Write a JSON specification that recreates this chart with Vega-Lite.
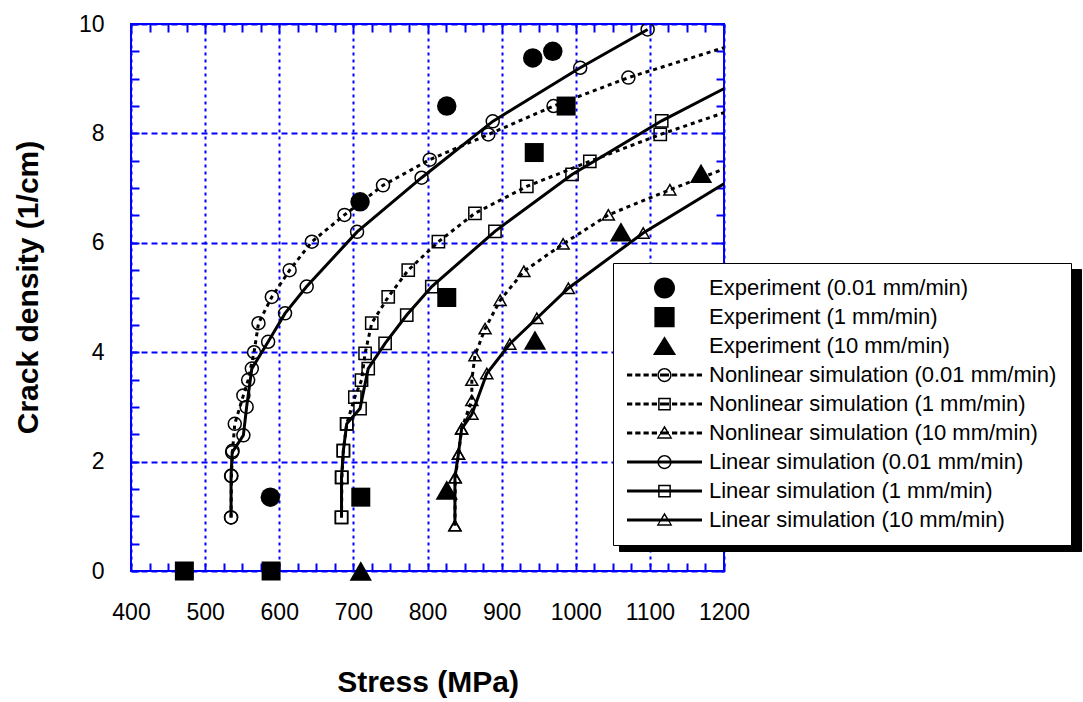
{
"$schema": "https://vega.github.io/schema/vega-lite/v6.json",
"width": 593, "height": 547,
"autosize": {"type": "none"},
"padding": {"left": 131, "top": 24, "right": 359, "bottom": 131},
"background": "white",
"config": {
  "view": {"stroke": "#0000ff", "strokeWidth": 2},
  "font": "Liberation Sans",
  "legend": {"orient": "none", "labelFont": "Liberation Sans", "labelFontSize": 22, "labelColor": "black", "labelOffset": 7, "labelLimit": 0, "symbolSize": 5625, "symbolStrokeWidth": 0, "clipHeight": 22, "rowPadding": 7, "padding": 14}
},
"data": {"values": [
{"s":"Experiment (0.01 mm/min)","t":"e","r":"0.01","i":1,"x":588,"y":1.35},
{"s":"Experiment (0.01 mm/min)","t":"e","r":"0.01","i":2,"x":709,"y":6.75},
{"s":"Experiment (0.01 mm/min)","t":"e","r":"0.01","i":3,"x":826,"y":8.5},
{"s":"Experiment (0.01 mm/min)","t":"e","r":"0.01","i":4,"x":942,"y":9.38},
{"s":"Experiment (0.01 mm/min)","t":"e","r":"0.01","i":5,"x":969,"y":9.5},
{"s":"Experiment (1 mm/min)","t":"e","r":"1","i":1,"x":472,"y":0},
{"s":"Experiment (1 mm/min)","t":"e","r":"1","i":2,"x":589,"y":0},
{"s":"Experiment (1 mm/min)","t":"e","r":"1","i":3,"x":710,"y":1.35},
{"s":"Experiment (1 mm/min)","t":"e","r":"1","i":4,"x":826,"y":5.0},
{"s":"Experiment (1 mm/min)","t":"e","r":"1","i":5,"x":944,"y":7.65},
{"s":"Experiment (1 mm/min)","t":"e","r":"1","i":6,"x":987,"y":8.5},
{"s":"Experiment (10 mm/min)","t":"e","r":"10","i":1,"x":710,"y":0},
{"s":"Experiment (10 mm/min)","t":"e","r":"10","i":2,"x":826,"y":1.48},
{"s":"Experiment (10 mm/min)","t":"e","r":"10","i":3,"x":945,"y":4.22},
{"s":"Experiment (10 mm/min)","t":"e","r":"10","i":4,"x":1061,"y":6.2},
{"s":"Experiment (10 mm/min)","t":"e","r":"10","i":5,"x":1169,"y":7.27},
{"s":"Nonlinear simulation (0.01 mm/min)","t":"n","r":"0.01","i":1,"x":535,"y":0.98},
{"s":"Nonlinear simulation (0.01 mm/min)","t":"n","r":"0.01","i":2,"x":535.5,"y":1.74},
{"s":"Nonlinear simulation (0.01 mm/min)","t":"n","r":"0.01","i":3,"x":537,"y":2.2},
{"s":"Nonlinear simulation (0.01 mm/min)","t":"n","r":"0.01","i":4,"x":540,"y":2.69},
{"s":"Nonlinear simulation (0.01 mm/min)","t":"n","r":"0.01","i":5,"x":551.6,"y":3.21},
{"s":"Nonlinear simulation (0.01 mm/min)","t":"n","r":"0.01","i":6,"x":558,"y":3.49},
{"s":"Nonlinear simulation (0.01 mm/min)","t":"n","r":"0.01","i":7,"x":566,"y":4.0},
{"s":"Nonlinear simulation (0.01 mm/min)","t":"n","r":"0.01","i":8,"x":572,"y":4.53},
{"s":"Nonlinear simulation (0.01 mm/min)","t":"n","r":"0.01","i":9,"x":590,"y":5.01},
{"s":"Nonlinear simulation (0.01 mm/min)","t":"n","r":"0.01","i":10,"x":614,"y":5.5},
{"s":"Nonlinear simulation (0.01 mm/min)","t":"n","r":"0.01","i":11,"x":644,"y":6.02},
{"s":"Nonlinear simulation (0.01 mm/min)","t":"n","r":"0.01","i":12,"x":688,"y":6.51},
{"s":"Nonlinear simulation (0.01 mm/min)","t":"n","r":"0.01","i":13,"x":740,"y":7.05},
{"s":"Nonlinear simulation (0.01 mm/min)","t":"n","r":"0.01","i":14,"x":803,"y":7.52},
{"s":"Nonlinear simulation (0.01 mm/min)","t":"n","r":"0.01","i":15,"x":882,"y":7.98},
{"s":"Nonlinear simulation (0.01 mm/min)","t":"n","r":"0.01","i":16,"x":970,"y":8.5},
{"s":"Nonlinear simulation (0.01 mm/min)","t":"n","r":"0.01","i":17,"x":1071,"y":9.02},
{"s":"Nonlinear simulation (0.01 mm/min)","t":"n","r":"0.01","i":18,"x":1250,"y":9.78},
{"s":"Linear simulation  (0.01 mm/min)","t":"l","r":"0.01","i":1,"x":535,"y":0.98},
{"s":"Linear simulation  (0.01 mm/min)","t":"l","r":"0.01","i":2,"x":535,"y":1.74},
{"s":"Linear simulation  (0.01 mm/min)","t":"l","r":"0.01","i":3,"x":536.5,"y":2.17},
{"s":"Linear simulation  (0.01 mm/min)","t":"l","r":"0.01","i":4,"x":551.6,"y":2.48},
{"s":"Linear simulation  (0.01 mm/min)","t":"l","r":"0.01","i":5,"x":556,"y":3.0},
{"s":"Linear simulation  (0.01 mm/min)","t":"l","r":"0.01","i":6,"x":563,"y":3.7},
{"s":"Linear simulation  (0.01 mm/min)","t":"l","r":"0.01","i":7,"x":585,"y":4.19},
{"s":"Linear simulation  (0.01 mm/min)","t":"l","r":"0.01","i":8,"x":607.8,"y":4.71},
{"s":"Linear simulation  (0.01 mm/min)","t":"l","r":"0.01","i":9,"x":637,"y":5.2},
{"s":"Linear simulation  (0.01 mm/min)","t":"l","r":"0.01","i":10,"x":705,"y":6.2},
{"s":"Linear simulation  (0.01 mm/min)","t":"l","r":"0.01","i":11,"x":792,"y":7.19},
{"s":"Linear simulation  (0.01 mm/min)","t":"l","r":"0.01","i":12,"x":888,"y":8.22},
{"s":"Linear simulation  (0.01 mm/min)","t":"l","r":"0.01","i":13,"x":1006,"y":9.2},
{"s":"Linear simulation  (0.01 mm/min)","t":"l","r":"0.01","i":14,"x":1097,"y":9.9},
{"s":"Nonlinear simulation (1 mm/min)","t":"n","r":"1","i":1,"x":684,"y":0.98},
{"s":"Nonlinear simulation (1 mm/min)","t":"n","r":"1","i":2,"x":684.5,"y":1.71},
{"s":"Nonlinear simulation (1 mm/min)","t":"n","r":"1","i":3,"x":686.5,"y":2.2},
{"s":"Nonlinear simulation (1 mm/min)","t":"n","r":"1","i":4,"x":691,"y":2.69},
{"s":"Nonlinear simulation (1 mm/min)","t":"n","r":"1","i":5,"x":702,"y":3.18},
{"s":"Nonlinear simulation (1 mm/min)","t":"n","r":"1","i":6,"x":711,"y":3.49},
{"s":"Nonlinear simulation (1 mm/min)","t":"n","r":"1","i":7,"x":715.8,"y":3.98},
{"s":"Nonlinear simulation (1 mm/min)","t":"n","r":"1","i":8,"x":724.8,"y":4.53},
{"s":"Nonlinear simulation (1 mm/min)","t":"n","r":"1","i":9,"x":747,"y":5.01},
{"s":"Nonlinear simulation (1 mm/min)","t":"n","r":"1","i":10,"x":774,"y":5.5},
{"s":"Nonlinear simulation (1 mm/min)","t":"n","r":"1","i":11,"x":814.7,"y":6.02},
{"s":"Nonlinear simulation (1 mm/min)","t":"n","r":"1","i":12,"x":864,"y":6.54},
{"s":"Nonlinear simulation (1 mm/min)","t":"n","r":"1","i":13,"x":934,"y":7.03},
{"s":"Nonlinear simulation (1 mm/min)","t":"n","r":"1","i":14,"x":1019,"y":7.49},
{"s":"Nonlinear simulation (1 mm/min)","t":"n","r":"1","i":15,"x":1114,"y":7.98},
{"s":"Nonlinear simulation (1 mm/min)","t":"n","r":"1","i":16,"x":1250,"y":8.61},
{"s":"Linear simulation (1 mm/min)","t":"l","r":"1","i":1,"x":684,"y":0.98},
{"s":"Linear simulation (1 mm/min)","t":"l","r":"1","i":2,"x":684,"y":1.71},
{"s":"Linear simulation (1 mm/min)","t":"l","r":"1","i":3,"x":686.5,"y":2.2},
{"s":"Linear simulation (1 mm/min)","t":"l","r":"1","i":4,"x":691,"y":2.69},
{"s":"Linear simulation (1 mm/min)","t":"l","r":"1","i":5,"x":709,"y":2.97},
{"s":"Linear simulation (1 mm/min)","t":"l","r":"1","i":6,"x":720,"y":3.7},
{"s":"Linear simulation (1 mm/min)","t":"l","r":"1","i":7,"x":742.8,"y":4.16},
{"s":"Linear simulation (1 mm/min)","t":"l","r":"1","i":8,"x":772,"y":4.68},
{"s":"Linear simulation (1 mm/min)","t":"l","r":"1","i":9,"x":805.8,"y":5.2},
{"s":"Linear simulation (1 mm/min)","t":"l","r":"1","i":10,"x":891,"y":6.21},
{"s":"Linear simulation (1 mm/min)","t":"l","r":"1","i":11,"x":995,"y":7.25},
{"s":"Linear simulation (1 mm/min)","t":"l","r":"1","i":12,"x":1116,"y":8.23},
{"s":"Linear simulation (1 mm/min)","t":"l","r":"1","i":13,"x":1250,"y":9.17},
{"s":"Nonlinear simulation (10 mm/min)","t":"n","r":"10","i":1,"x":837,"y":0.83},
{"s":"Nonlinear simulation (10 mm/min)","t":"n","r":"10","i":2,"x":837.5,"y":1.71},
{"s":"Nonlinear simulation (10 mm/min)","t":"n","r":"10","i":3,"x":842,"y":2.14},
{"s":"Nonlinear simulation (10 mm/min)","t":"n","r":"10","i":4,"x":846,"y":2.6},
{"s":"Nonlinear simulation (10 mm/min)","t":"n","r":"10","i":5,"x":859.8,"y":3.12},
{"s":"Nonlinear simulation (10 mm/min)","t":"n","r":"10","i":6,"x":859.8,"y":3.49},
{"s":"Nonlinear simulation (10 mm/min)","t":"n","r":"10","i":7,"x":864,"y":3.94},
{"s":"Nonlinear simulation (10 mm/min)","t":"n","r":"10","i":8,"x":877.7,"y":4.43},
{"s":"Nonlinear simulation (10 mm/min)","t":"n","r":"10","i":9,"x":898,"y":4.95},
{"s":"Nonlinear simulation (10 mm/min)","t":"n","r":"10","i":10,"x":930,"y":5.48},
{"s":"Nonlinear simulation (10 mm/min)","t":"n","r":"10","i":11,"x":983,"y":5.98},
{"s":"Nonlinear simulation (10 mm/min)","t":"n","r":"10","i":12,"x":1044,"y":6.51},
{"s":"Nonlinear simulation (10 mm/min)","t":"n","r":"10","i":13,"x":1127,"y":6.97},
{"s":"Nonlinear simulation (10 mm/min)","t":"n","r":"10","i":14,"x":1250,"y":7.61},
{"s":"Linear simulation (10 mm/min)","t":"l","r":"10","i":1,"x":837,"y":0.83},
{"s":"Linear simulation (10 mm/min)","t":"l","r":"10","i":2,"x":837,"y":1.71},
{"s":"Linear simulation (10 mm/min)","t":"l","r":"10","i":3,"x":841.7,"y":2.14},
{"s":"Linear simulation (10 mm/min)","t":"l","r":"10","i":4,"x":846,"y":2.6},
{"s":"Linear simulation (10 mm/min)","t":"l","r":"10","i":5,"x":860,"y":2.87},
{"s":"Linear simulation (10 mm/min)","t":"l","r":"10","i":6,"x":880,"y":3.61},
{"s":"Linear simulation (10 mm/min)","t":"l","r":"10","i":7,"x":911,"y":4.15},
{"s":"Linear simulation (10 mm/min)","t":"l","r":"10","i":8,"x":947.5,"y":4.62},
{"s":"Linear simulation (10 mm/min)","t":"l","r":"10","i":9,"x":990,"y":5.17},
{"s":"Linear simulation (10 mm/min)","t":"l","r":"10","i":10,"x":1091,"y":6.18},
{"s":"Linear simulation (10 mm/min)","t":"l","r":"10","i":11,"x":1250,"y":7.49}
]},
"layer": [
 {
  "encoding": {
   "x": {"field": "x", "type": "quantitative", "scale": {"domain": [400, 1200], "nice": false, "zero": false},
     "axis": {"orient": "bottom", "title": "Stress (MPa)", "format": "d",
       "values": [400,500,600,700,800,900,1000,1100,1200],
       "labelFont": "Liberation Sans", "labelFontSize": 23, "labelColor": "black", "labelPadding": 30, "labelFlush": false, "labelOverlap": false, "labelBound": false,
       "ticks": false,
       "grid": true, "gridColor": "#0000ff", "gridWidth": 2, "gridDash": [3, 4],
       "domain": false,
       "titleFont": "Liberation Sans", "titleFontSize": 30, "titleFontWeight": "bold", "titleColor": "black", "titleY": 111, "titleBaseline": "middle"}},
   "y": {"field": "y", "type": "quantitative", "scale": {"domain": [0, 10], "nice": false, "zero": false},
     "axis": {"orient": "left", "title": "Crack density (1/cm)", "format": "d",
       "values": [0,2,4,6,8,10],
       "labelFont": "Liberation Sans", "labelFontSize": 23, "labelColor": "black", "labelPadding": 27, "labelFlush": false, "labelOverlap": false, "labelBound": false,
       "ticks": false,
       "grid": true, "gridColor": "#0000ff", "gridWidth": 2, "gridDash": [6, 4],
       "domain": false,
       "titleFont": "Liberation Sans", "titleFontSize": 30, "titleFontWeight": "bold", "titleColor": "black", "titleX": -103, "titleY": 263, "titleBaseline": "middle", "titleAngle": -90}}
  },
  "layer": [
   {"transform": [{"filter": "datum.t === 'n'"}],
    "mark": {"type": "line", "stroke": "black", "strokeWidth": 3, "strokeDash": [4, 4], "clip": true},
    "encoding": {"detail": {"field": "r"}, "order": {"field": "i", "type": "quantitative"}}},
   {"transform": [{"filter": "datum.t === 'l'"}],
    "mark": {"type": "line", "stroke": "black", "strokeWidth": 3, "clip": true},
    "encoding": {"detail": {"field": "r"}, "order": {"field": "i", "type": "quantitative"}}},
   {"transform": [{"filter": "datum.t !== 'e' && datum.r === '0.01'"}],
    "mark": {"type": "point", "shape": "circle", "size": 169, "filled": false, "stroke": "black", "strokeWidth": 1.5, "opacity": 1, "clip": true}},
   {"transform": [{"filter": "datum.t !== 'e' && datum.r === '1'"}],
    "mark": {"type": "point", "shape": "square", "size": 150, "filled": false, "stroke": "black", "strokeWidth": 1.5, "opacity": 1, "clip": true}},
   {"transform": [{"filter": "datum.t !== 'e' && datum.r === '10'"}],
    "mark": {"type": "point", "shape": "triangle-up", "size": 144, "filled": false, "stroke": "black", "strokeWidth": 1.5, "opacity": 1, "clip": true}},
   {"transform": [{"filter": "datum.t === 'e' && datum.r === '0.01'"}],
    "mark": {"type": "point", "shape": "circle", "size": 380, "filled": true, "color": "black", "opacity": 1}},
   {"transform": [{"filter": "datum.t === 'e' && datum.r === '1'"}],
    "mark": {"type": "point", "shape": "square", "size": 361, "filled": true, "color": "black", "opacity": 1}},
   {"transform": [{"filter": "datum.t === 'e' && datum.r === '10'"}],
    "mark": {"type": "point", "shape": "triangle-up", "size": 500, "filled": true, "color": "black", "opacity": 1}}
  ]
 },
 {
  "mark": {"type": "point", "opacity": 0},
  "encoding": {
   "x": {"field": "x", "type": "quantitative", "scale": {"domain": [400, 1200], "nice": false, "zero": false},
     "axis": {"orient": "bottom", "title": null, "labels": false, "grid": false, "domain": false, "offset": -8,
       "values": [400,425,450,475,500,525,550,575,600,625,650,675,700,725,750,775,800,825,850,875,900,925,950,975,1000,1025,1050,1075,1100,1125,1150,1175,1200],
       "tickSize": 8, "tickColor": "#0000ff", "tickWidth": 2}},
   "y": {"field": "y", "type": "quantitative", "scale": {"domain": [0, 10], "nice": false, "zero": false},
     "axis": {"orient": "left", "title": null, "labels": false, "grid": false, "domain": false, "offset": -8,
       "values": [0,0.5,1,1.5,2,2.5,3,3.5,4,4.5,5,5.5,6,6.5,7,7.5,8,8.5,9,9.5,10],
       "tickSize": 8, "tickColor": "#0000ff", "tickWidth": 2}}
  }
 },
 {
  "mark": {"type": "point", "opacity": 0, "filled": true, "stroke": "black"},
  "encoding": {
   "x": {"field": "x", "type": "quantitative", "scale": {"domain": [400, 1200], "nice": false, "zero": false},
     "axis": {"orient": "top", "title": null, "labels": false, "grid": false, "domain": false, "offset": -8,
       "values": [400,425,450,475,500,525,550,575,600,625,650,675,700,725,750,775,800,825,850,875,900,925,950,975,1000,1025,1050,1075,1100,1125,1150,1175,1200],
       "tickSize": 8, "tickColor": "#0000ff", "tickWidth": 2}},
   "y": {"field": "y", "type": "quantitative", "scale": {"domain": [0, 10], "nice": false, "zero": false},
     "axis": {"orient": "right", "title": null, "labels": false, "grid": false, "domain": false, "offset": -8,
       "values": [0,0.5,1,1.5,2,2.5,3,3.5,4,4.5,5,5.5,6,6.5,7,7.5,8,8.5,9,9.5,10],
       "tickSize": 8, "tickColor": "#0000ff", "tickWidth": 2}},
   "shape": {"field": "s", "type": "nominal",
     "scale": {"domain": ["Experiment (0.01 mm/min)","Experiment (1 mm/min)","Experiment (10 mm/min)","Nonlinear simulation (0.01 mm/min)","Nonlinear simulation (1 mm/min)","Nonlinear simulation (10 mm/min)","Linear simulation  (0.01 mm/min)","Linear simulation (1 mm/min)","Linear simulation (10 mm/min)"],
       "range": [
        "M0.28,0A0.28,0.28,0,1,1,-0.28,0A0.28,0.28,0,1,1,0.28,0Z",
        "M-0.27,-0.27H0.27V0.27H-0.27Z",
        "M0,-0.26L0.31,0.24H-0.31Z",
        "M-1,-0.04H-0.86V0.04H-1ZM-0.78,-0.04H-0.64V0.04H-0.78ZM-0.56,-0.04H-0.42V0.04H-0.56ZM-0.34,-0.04H-0.2V0.04H-0.34ZM-0.12,-0.04H0.12V0.04H-0.12ZM0.2,-0.04H0.34V0.04H0.2ZM0.42,-0.04H0.56V0.04H0.42ZM0.64,-0.04H0.78V0.04H0.64ZM0.86,-0.04H1V0.04H0.86ZM0.19,0A0.19,0.19,0,1,1,-0.19,0A0.19,0.19,0,1,1,0.19,0ZM0.15,0A0.15,0.15,0,1,0,-0.15,0A0.15,0.15,0,1,0,0.15,0Z",
        "M-1,-0.04H-0.86V0.04H-1ZM-0.78,-0.04H-0.64V0.04H-0.78ZM-0.56,-0.04H-0.42V0.04H-0.56ZM-0.34,-0.04H-0.2V0.04H-0.34ZM-0.12,-0.04H0.12V0.04H-0.12ZM0.2,-0.04H0.34V0.04H0.2ZM0.42,-0.04H0.56V0.04H0.42ZM0.64,-0.04H0.78V0.04H0.64ZM0.86,-0.04H1V0.04H0.86ZM-0.17,-0.17H0.17V0.17H-0.17ZM-0.13,-0.13V0.13H0.13V-0.13Z",
        "M-1,-0.04H-0.86V0.04H-1ZM-0.78,-0.04H-0.64V0.04H-0.78ZM-0.56,-0.04H-0.42V0.04H-0.56ZM-0.34,-0.04H-0.2V0.04H-0.34ZM-0.12,-0.04H0.12V0.04H-0.12ZM0.2,-0.04H0.34V0.04H0.2ZM0.42,-0.04H0.56V0.04H0.42ZM0.64,-0.04H0.78V0.04H0.64ZM0.86,-0.04H1V0.04H0.86ZM0,-0.2L0.21,0.15H-0.21ZM0,-0.12L-0.15,0.11H0.15Z",
        "M-1,-0.04H1V0.04H-1ZM0.19,0A0.19,0.19,0,1,1,-0.19,0A0.19,0.19,0,1,1,0.19,0ZM0.15,0A0.15,0.15,0,1,0,-0.15,0A0.15,0.15,0,1,0,0.15,0Z",
        "M-1,-0.04H1V0.04H-1ZM-0.17,-0.17H0.17V0.17H-0.17ZM-0.13,-0.13V0.13H0.13V-0.13Z",
        "M-1,-0.04H1V0.04H-1ZM0,-0.2L0.21,0.15H-0.21ZM0,-0.12L-0.15,0.11H0.15Z"
       ]},
     "legend": {"title": null, "legendX": 482, "legendY": 239, "zindex": 2, "strokeColor": "black", "fillColor": "white", "symbolOpacity": 1}},
   "fill": {"field": "s", "type": "nominal",
     "scale": {"domain": ["Experiment (0.01 mm/min)","Experiment (1 mm/min)","Experiment (10 mm/min)","Nonlinear simulation (0.01 mm/min)","Nonlinear simulation (1 mm/min)","Nonlinear simulation (10 mm/min)","Linear simulation  (0.01 mm/min)","Linear simulation (1 mm/min)","Linear simulation (10 mm/min)"],
       "range": ["black","black","black","black","black","black","black","black","black"]},
     "legend": {"title": null, "legendX": 482, "legendY": 239, "zindex": 2, "strokeColor": "black", "fillColor": "white", "symbolOpacity": 1}},
   "stroke": {"field": "s", "type": "nominal",
     "legend": {"title": null, "legendX": 488, "legendY": 245, "zindex": 1, "strokeColor": "black", "fillColor": "black", "symbolOpacity": 0, "symbolType": "M-1,0H1", "symbolSize": 182329, "labelExpr": "''"}}
  }
 }
],
"resolve": {"axis": {"x": "independent", "y": "independent"}}
}
